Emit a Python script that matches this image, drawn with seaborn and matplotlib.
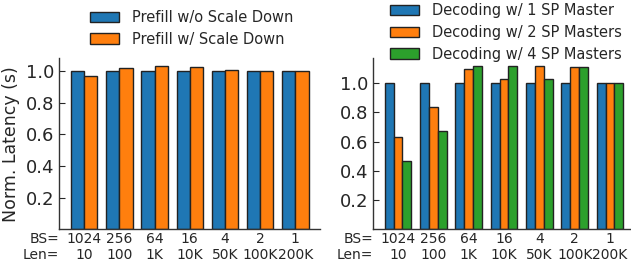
import numpy as np
import pandas as pd
import matplotlib
matplotlib.use("Agg")
import matplotlib.pyplot as plt
import seaborn as sns

# ---------- dados ----------
bs = ["1024", "256", "64", "16", "4", "2", "1"]
seq_len = ["10", "100", "1K", "10K", "50K", "100K", "200K"]
cats = [f"{b}\n{l}" for b, l in zip(bs, seq_len)]

prefill_labels = ["Prefill w/o Scale Down", "Prefill w/ Scale Down"]
prefill_no_scale = [1.0, 1.0, 1.0, 1.0, 1.0, 1.0, 1.0]
prefill_scale = [0.968, 1.018, 1.031, 1.024, 1.010, 1.0, 0.998]

decode_labels = ["Decoding w/ 1 SP Master", "Decoding w/ 2 SP Masters",
                 "Decoding w/ 4 SP Masters"]
decode_1 = [1.0, 1.0, 1.0, 1.0, 1.0, 1.0, 1.0]
decode_2 = [0.635, 0.834, 1.094, 1.030, 1.114, 1.110, 1.0]
decode_4 = [0.466, 0.676, 1.116, 1.114, 1.030, 1.110, 1.0]

cores = ["#1f77b4", "#ff7f0e", "#2ca02c"]

def long_df(series, labels):
    linhas = []
    for vals, lab in zip(series, labels):
        for c, v in zip(cats, vals):
            linhas.append({"cat": c, "serie": lab, "val": v})
    return pd.DataFrame(linhas)

df_pre = long_df([prefill_no_scale, prefill_scale], prefill_labels)
df_dec = long_df([decode_1, decode_2, decode_4], decode_labels)

sns.set_style("ticks")
plt.rcParams["font.family"] = ["DejaVu Sans"]

fig = plt.figure(figsize=(6.31, 2.65), dpi=100)
ax1 = fig.add_axes([0.0938, 0.134, 0.414, 0.647])
ax2 = fig.add_axes([0.591, 0.134, 0.4155, 0.647])

for ax, df, labels, anchor in [
    (ax1, df_pre, prefill_labels, (0.1426, 0.962)),
    (ax2, df_dec, decode_labels, (0.618, 0.987)),
]:
    sns.barplot(data=df, x="cat", y="val", hue="serie", hue_order=labels,
                palette=cores[:len(labels)], width=0.75, saturation=1,
                edgecolor="#222222", linewidth=1.0, ax=ax)
    ax.set_xlim(-0.7125, 6.7125)
    ax.margins(y=0.05)
    ax.set_yticks([0.2, 0.4, 0.6, 0.8, 1.0])
    ax.set_yticklabels(["0.2", "0.4", "0.6", "0.8", "1.0"], fontsize=13)
    ax.tick_params(axis="x", direction="in", length=3, labelsize=10, pad=2)
    ax.tick_params(axis="y", direction="in", length=4)
    ax.set_xlabel("")
    ax.set_ylabel("")
    sns.despine(ax=ax)
    for s in ["left", "bottom"]:
        ax.spines[s].set_color("#333333")
        ax.spines[s].set_linewidth(1.0)
    ax.text(0.0, -0.012, "BS=\nLen=", transform=ax.transAxes,
            ha="right", va="top", fontsize=10, linespacing=1.2)
    ax.legend_.remove()
    handles, labs = ax.get_legend_handles_labels()
    fig.legend(handles, labs, loc="upper left", bbox_to_anchor=anchor,
               frameon=False, fontsize=10.5, borderpad=0, borderaxespad=0,
               handlelength=2.0, handletextpad=0.85, labelspacing=0.45)

ax1.set_ylabel("Norm. Latency (s)", fontsize=12.5)

fig.savefig("out.png", dpi=100)
